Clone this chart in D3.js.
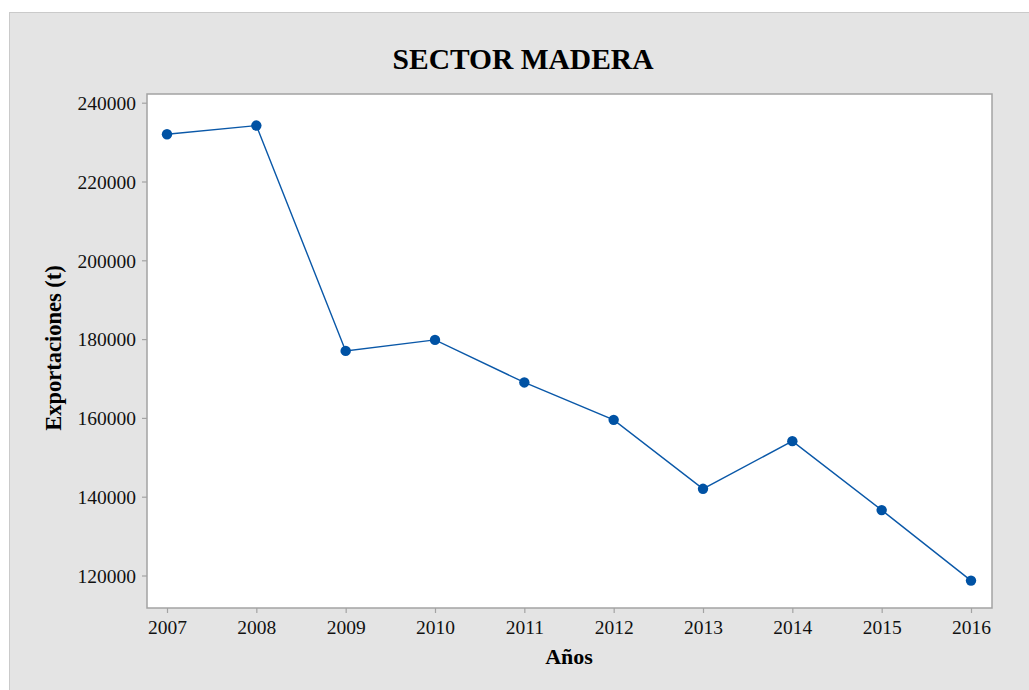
<!DOCTYPE html>
<html>
<head>
<meta charset="utf-8">
<script src="https://cdn.jsdelivr.net/npm/d3@7"></script>
<style>
  body { margin: 0; background: #fff; }
  svg { display: block; font-family: "Liberation Serif", "Times New Roman", serif; }
</style>
</head>
<body>
<svg id="chart"></svg>
<script>
const WIDTH = 1029;
const HEIGHT = 690;

// data
const years = [2007, 2008, 2009, 2010, 2011, 2012, 2013, 2014, 2015, 2016];
const exports = [232000, 234200, 177000, 179800, 169000, 159500, 142000, 154100, 136600, 118700];
const yTicks = [120000, 140000, 160000, 180000, 200000, 220000, 240000];

const PLOT = { left: 147, top: 94, right: 992, bottom: 608 };
const LINE_COLOR = '#0a58a8';

const svg = d3.select('#chart').attr('width', WIDTH).attr('height', HEIGHT);

// outer panel
svg.append('rect')
  .attr('x', 9.5).attr('y', 12.5)
  .attr('width', WIDTH + 10).attr('height', HEIGHT + 10)
  .attr('fill', '#e4e4e4')
  .attr('stroke', '#cacaca');

// plot area
svg.append('rect')
  .attr('x', PLOT.left).attr('y', PLOT.top)
  .attr('width', PLOT.right - PLOT.left).attr('height', PLOT.bottom - PLOT.top)
  .attr('fill', '#fff')
  .attr('stroke', '#a3a3a3')
  .attr('stroke-width', 1.5);

const x = d3.scalePoint()
  .domain(years)
  .range([167, 971]);

const y = d3.scaleLinear()
  .domain([120000, 240000])
  .range([575.5, 102.7]);

// axes
const xAxis = svg.append('g')
  .attr('transform', `translate(0,${PLOT.bottom})`)
  .call(d3.axisBottom(x).tickSize(5).tickPadding(5));

const yAxis = svg.append('g')
  .attr('transform', `translate(${PLOT.left},0)`)
  .call(d3.axisLeft(y).tickValues(yTicks).tickFormat(d3.format('d')).tickSize(5).tickPadding(6));

[xAxis, yAxis].forEach(ax => {
  ax.select('.domain').remove();
  ax.selectAll('line').attr('stroke', '#a3a3a3').attr('stroke-width', 1.2);
  ax.selectAll('text')
    .attr('fill', '#111')
    .style('font-family', '"Liberation Serif", "Times New Roman", serif')
    .style('font-size', '19.5px');
});
xAxis.selectAll('text').attr('dy', '0.8em');
yAxis.selectAll('text').attr('dy', '0.35em');

// line and points
const line = d3.line()
  .x((d, i) => x(years[i]))
  .y(d => y(d));

svg.append('path')
  .datum(exports)
  .attr('d', line)
  .attr('fill', 'none')
  .attr('stroke', LINE_COLOR)
  .attr('stroke-width', 1.4);

svg.selectAll('circle.pt')
  .data(exports)
  .join('circle')
  .attr('class', 'pt')
  .attr('cx', (d, i) => x(years[i]))
  .attr('cy', d => y(d))
  .attr('r', 5.2)
  .attr('fill', '#0052a4');

// titles
svg.append('text')
  .attr('x', 523).attr('y', 69)
  .attr('text-anchor', 'middle')
  .style('font-size', '29.5px')
  .style('font-weight', 'bold')
  .text('SECTOR MADERA');

svg.append('text')
  .attr('x', 569).attr('y', 664)
  .attr('text-anchor', 'middle')
  .style('font-size', '22px')
  .style('font-weight', 'bold')
  .text('Años');

svg.append('text')
  .attr('transform', 'translate(61,348) rotate(-90)')
  .attr('text-anchor', 'middle')
  .style('font-size', '22.5px')
  .style('font-weight', 'bold')
  .text('Exportaciones (t)');
</script>
</body>
</html>
